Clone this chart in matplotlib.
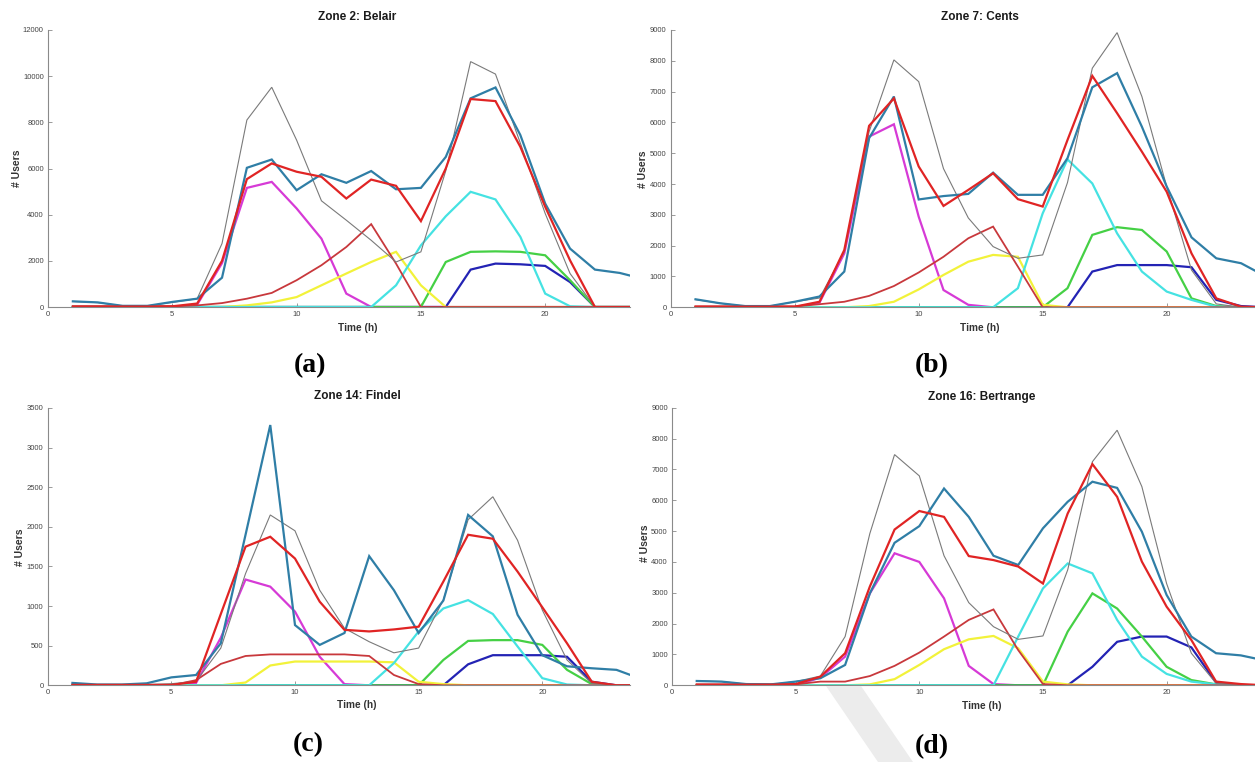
import matplotlib
matplotlib.use("Agg")
import matplotlib.pyplot as plt
from matplotlib.patches import Polygon
import numpy as np

# ---------------- data ----------------
hours = list(range(1, 25))

titles = ["Zone 2: Belair", "Zone 7: Cents", "Zone 14: Findel", "Zone 16: Bertrange"]
panel_tags = ["(a)", "(b)", "(c)", "(d)"]
y_max = [12000, 9000, 3500, 9000]
y_step = [2000, 1000, 500, 1000]
x_ticks = [0, 5, 10, 15, 20]

# Zone 2: Belair
a_gray = [240, 190, 50, 50, 200, 360, 2750, 8100, 9520, 7230, 4600, 3760, 2890, 1950, 2390, 5900, 10630, 10090, 7100, 4050, 1450, 0, 0, 0]
a_steel = [245, 200, 50, 50, 220, 360, 1270, 6030, 6390, 5060, 5750, 5380, 5890, 5100, 5160, 6500, 9040, 9510, 7450, 4480, 2530, 1620, 1475, 1200]
a_red = [20, 20, 20, 20, 30, 150, 2000, 5540, 6220, 5860, 5640, 4700, 5520, 5250, 3720, 6000, 9010, 8920, 6940, 4340, 2020, 0, 0, 0]
a_magenta = [0, 0, 0, 0, 0, 100, 1900, 5160, 5420, 4270, 2960, 580, 0, 0, 0, 0, 0, 0, 0, 0, 0, 0, 0, 0]
a_brick = [30, 30, 30, 30, 30, 70, 170, 360, 610, 1160, 1810, 2600, 3590, 1880, 0, 0, 0, 0, 0, 0, 0, 0, 0, 0]
a_yellow = [0, 0, 0, 0, 0, 0, 0, 70, 200, 430, 940, 1450, 1950, 2390, 940, 0, 0, 0, 0, 0, 0, 0, 0, 0]
a_cyan = [0, 0, 0, 0, 0, 0, 0, 0, 0, 0, 0, 0, 0, 940, 2670, 3930, 4990, 4660, 3040, 580, 30, 0, 0, 0]
a_green = [0, 0, 0, 0, 0, 0, 0, 0, 0, 0, 0, 0, 0, 0, 0, 1950, 2390, 2410, 2390, 2240, 1160, 0, 0, 0]
a_blue = [0, 0, 0, 0, 0, 0, 0, 0, 0, 0, 0, 0, 0, 0, 0, 0, 1620, 1880, 1850, 1780, 1080, 0, 0, 0]

# Zone 7: Cents
b_gray = [250, 130, 40, 40, 180, 300, 1800, 5700, 8030, 7325, 4500, 2900, 1970, 1590, 1700, 4050, 7760, 8915, 6840, 3920, 1210, 110, 0, 0]
b_steel = [260, 130, 40, 40, 180, 350, 1160, 5490, 6840, 3500, 3610, 3680, 4370, 3650, 3650, 4840, 7140, 7600, 5860, 3920, 2270, 1590, 1430, 1000]
b_red = [20, 20, 20, 20, 20, 180, 1860, 5890, 6780, 4570, 3290, 3810, 4350, 3510, 3270, 5430, 7510, 6300, 5050, 3750, 1750, 290, 20, 0]
b_magenta = [0, 0, 0, 0, 0, 150, 1750, 5540, 5940, 2940, 560, 80, 0, 0, 0, 0, 0, 0, 0, 0, 0, 0, 0, 0]
b_brick = [30, 30, 30, 30, 30, 100, 180, 370, 690, 1130, 1640, 2240, 2620, 1320, 0, 0, 0, 0, 0, 0, 0, 0, 0, 0]
b_yellow = [0, 0, 0, 0, 0, 0, 0, 40, 180, 580, 1050, 1480, 1700, 1640, 80, 0, 0, 0, 0, 0, 0, 0, 0, 0]
b_cyan = [0, 0, 0, 0, 0, 0, 0, 0, 0, 0, 0, 0, 0, 620, 3050, 4800, 4020, 2400, 1160, 510, 240, 20, 0, 0]
b_green = [0, 0, 0, 0, 0, 0, 0, 0, 0, 0, 0, 0, 0, 0, 0, 620, 2350, 2600, 2510, 1810, 290, 40, 0, 0]
b_blue = [0, 0, 0, 0, 0, 0, 0, 0, 0, 0, 0, 0, 0, 0, 0, 0, 1160, 1370, 1370, 1370, 1300, 240, 40, 0]

# Zone 14: Findel
c_gray = [10, 10, 10, 10, 20, 50, 470, 1410, 2150, 1950, 1200, 720, 550, 410, 470, 1080, 2090, 2380, 1830, 950, 320, 25, 0, 0]
c_steel = [30, 10, 10, 25, 100, 130, 530, 1900, 3285, 760, 510, 660, 1630, 1200, 660, 1070, 2150, 1880, 890, 380, 240, 215, 195, 80]
c_red = [5, 5, 5, 5, 5, 45, 900, 1750, 1875, 1600, 1055, 700, 680, 705, 740, 1310, 1900, 1850, 1435, 985, 530, 45, 0, 0]
c_magenta = [0, 0, 0, 0, 0, 30, 600, 1335, 1245, 930, 360, 15, 0, 0, 0, 0, 0, 0, 0, 0, 0, 0, 0, 0]
c_brick = [0, 0, 0, 0, 0, 65, 270, 370, 390, 390, 390, 390, 370, 130, 15, 0, 0, 0, 0, 0, 0, 0, 0, 0]
c_yellow = [0, 0, 0, 0, 0, 0, 0, 35, 250, 300, 300, 300, 300, 290, 45, 15, 0, 0, 0, 0, 0, 0, 0, 0]
c_cyan = [0, 0, 0, 0, 0, 0, 0, 0, 0, 0, 0, 0, 0, 280, 680, 970, 1075, 900, 490, 90, 10, 0, 0, 0]
c_green = [0, 0, 0, 0, 0, 0, 0, 0, 0, 0, 0, 0, 0, 0, 0, 320, 560, 570, 570, 510, 195, 15, 0, 0]
c_blue = [0, 0, 0, 0, 0, 0, 0, 0, 0, 0, 0, 0, 0, 0, 0, 0, 265, 380, 380, 380, 360, 45, 0, 0]

# Zone 16: Bertrange
d_gray = [140, 120, 40, 30, 120, 300, 1580, 4920, 7480, 6790, 4200, 2680, 1900, 1490, 1600, 3740, 7250, 8270, 6440, 3300, 1040, 65, 0, 0]
d_steel = [140, 120, 40, 30, 120, 230, 660, 2980, 4620, 5160, 6380, 5460, 4200, 3900, 5090, 5950, 6600, 6400, 4980, 2930, 1580, 1040, 970, 800]
d_red = [20, 20, 20, 20, 40, 280, 1040, 3200, 5050, 5650, 5460, 4190, 4060, 3850, 3300, 5570, 7170, 6110, 4010, 2550, 1470, 120, 40, 0]
d_magenta = [0, 0, 0, 0, 0, 250, 930, 2980, 4280, 4000, 2820, 630, 40, 0, 0, 0, 0, 0, 0, 0, 0, 0, 0, 0]
d_brick = [30, 30, 30, 30, 30, 120, 120, 300, 630, 1060, 1580, 2120, 2460, 1140, 40, 0, 0, 0, 0, 0, 0, 0, 0, 0]
d_yellow = [0, 0, 0, 0, 0, 0, 0, 30, 200, 660, 1170, 1490, 1600, 1200, 120, 30, 0, 0, 0, 0, 0, 0, 0, 0]
d_cyan = [0, 0, 0, 0, 0, 0, 0, 0, 0, 0, 0, 0, 0, 1580, 3140, 3950, 3630, 2120, 930, 370, 120, 30, 0, 0]
d_green = [0, 0, 0, 0, 0, 0, 0, 0, 0, 0, 0, 0, 0, 0, 0, 1740, 2980, 2490, 1580, 600, 170, 30, 0, 0]
d_blue = [0, 0, 0, 0, 0, 0, 0, 0, 0, 0, 0, 0, 0, 0, 0, 0, 600, 1410, 1580, 1580, 1230, 90, 0, 0]

panels = [
    dict(magenta=a_magenta, blue=a_blue, green=a_green, yellow=a_yellow, cyan=a_cyan,
         brick=a_brick, gray=a_gray, steel=a_steel, red=a_red),
    dict(magenta=b_magenta, blue=b_blue, green=b_green, yellow=b_yellow, cyan=b_cyan,
         brick=b_brick, gray=b_gray, steel=b_steel, red=b_red),
    dict(magenta=c_magenta, blue=c_blue, green=c_green, yellow=c_yellow, cyan=c_cyan,
         brick=c_brick, gray=c_gray, steel=c_steel, red=c_red),
    dict(magenta=d_magenta, blue=d_blue, green=d_green, yellow=d_yellow, cyan=d_cyan,
         brick=d_brick, gray=d_gray, steel=d_steel, red=d_red),
]

# ---------------- styles ----------------
colors = dict(magenta="#d63ad6", blue="#2323b4", green="#45d045", yellow="#f2f23a",
              cyan="#45e2e2", brick="#c8383c", gray="#7a7a7a", steel="#2f7ea6", red="#e02424")
widths = dict(magenta=1.6, blue=1.6, green=1.6, yellow=1.6, cyan=1.6,
              brick=1.3, gray=0.8, steel=1.6, red=1.6)

W, H = 1255, 762
fig = plt.figure(figsize=(W / 100, H / 100), dpi=100)
fig.patch.set_facecolor("white")

# faint diagonal watermark band left of label (d)
band_px = [(826, 686), (861, 686), (913, 762), (878, 762)]
fig.patches.append(Polygon([(x / W, 1 - y / H) for x, y in band_px], closed=True,
                           transform=fig.transFigure, facecolor="#ececec",
                           edgecolor="none", zorder=0))

# axes boxes in pixels: left, right, top, bottom ; px per hour
boxes = [(48, 630, 30, 307, 24.86),
         (670.7, 1255, 30, 307.3, 24.8),
         (47.7, 630, 408, 685.3, 24.73),
         (672, 1255, 407.7, 685.3, 24.73)]

title_pos = [(357, 17), (980, 17), (357, 396), (982, 397)]
xlabel_pos = [(358, 328), (980, 328), (357, 705), (982, 706)]
ylabel_pos = [(17, 168), (643, 169), (20, 547), (645, 543)]
tag_pos = [(310, 366), (932, 366), (308, 745), (932, 747)]

sans = ["Liberation Sans", "DejaVu Sans"]
serif = ["Liberation Serif", "DejaVu Serif"]

def ftx(x, y):
    return x / W, 1 - y / H

for i, (series, box) in enumerate(zip(panels, boxes)):
    l, r, t, b, pph = box
    ax = fig.add_axes([l / W, 1 - b / H, (r - l) / W, (b - t) / H])
    for name, vals in series.items():
        ax.plot(hours, vals, color=colors[name], lw=widths[name], solid_joinstyle="miter")
    ax.set_xlim(0, (r - l) / pph)
    ax.set_ylim(0, y_max[i])
    ax.set_xticks(x_ticks)
    ax.set_yticks(np.arange(0, y_max[i] + 1, y_step[i]))
    for s in ["top", "right"]:
        ax.spines[s].set_visible(False)
    for s in ["left", "bottom"]:
        ax.spines[s].set_color("#8a8a8a")
        ax.spines[s].set_linewidth(0.8)
    ax.tick_params(direction="in", length=3, width=0.6, color="#8a8a8a",
                   labelsize=5.5, labelcolor="#444444", pad=3)
    for lab in ax.get_xticklabels() + ax.get_yticklabels():
        lab.set_family(sans)
    ax.patch.set_alpha(0)

    fig.text(*ftx(*title_pos[i]), titles[i], ha="center", va="center",
             fontsize=8.5, fontweight="bold", family=sans, color="#1a1a1a")
    fig.text(*ftx(*xlabel_pos[i]), "Time (h)", ha="center", va="center",
             fontsize=7.3, fontweight="bold", family=sans, color="#333333")
    fig.text(*ftx(*ylabel_pos[i]), "# Users", ha="center", va="center", rotation=90,
             fontsize=7.5, fontweight="bold", family=sans, color="#333333")
    fig.text(*ftx(*tag_pos[i]), panel_tags[i], ha="center", va="center",
             fontsize=20, fontweight="bold", family=serif, color="black")

fig.savefig("out.png", dpi=100, facecolor="white")
